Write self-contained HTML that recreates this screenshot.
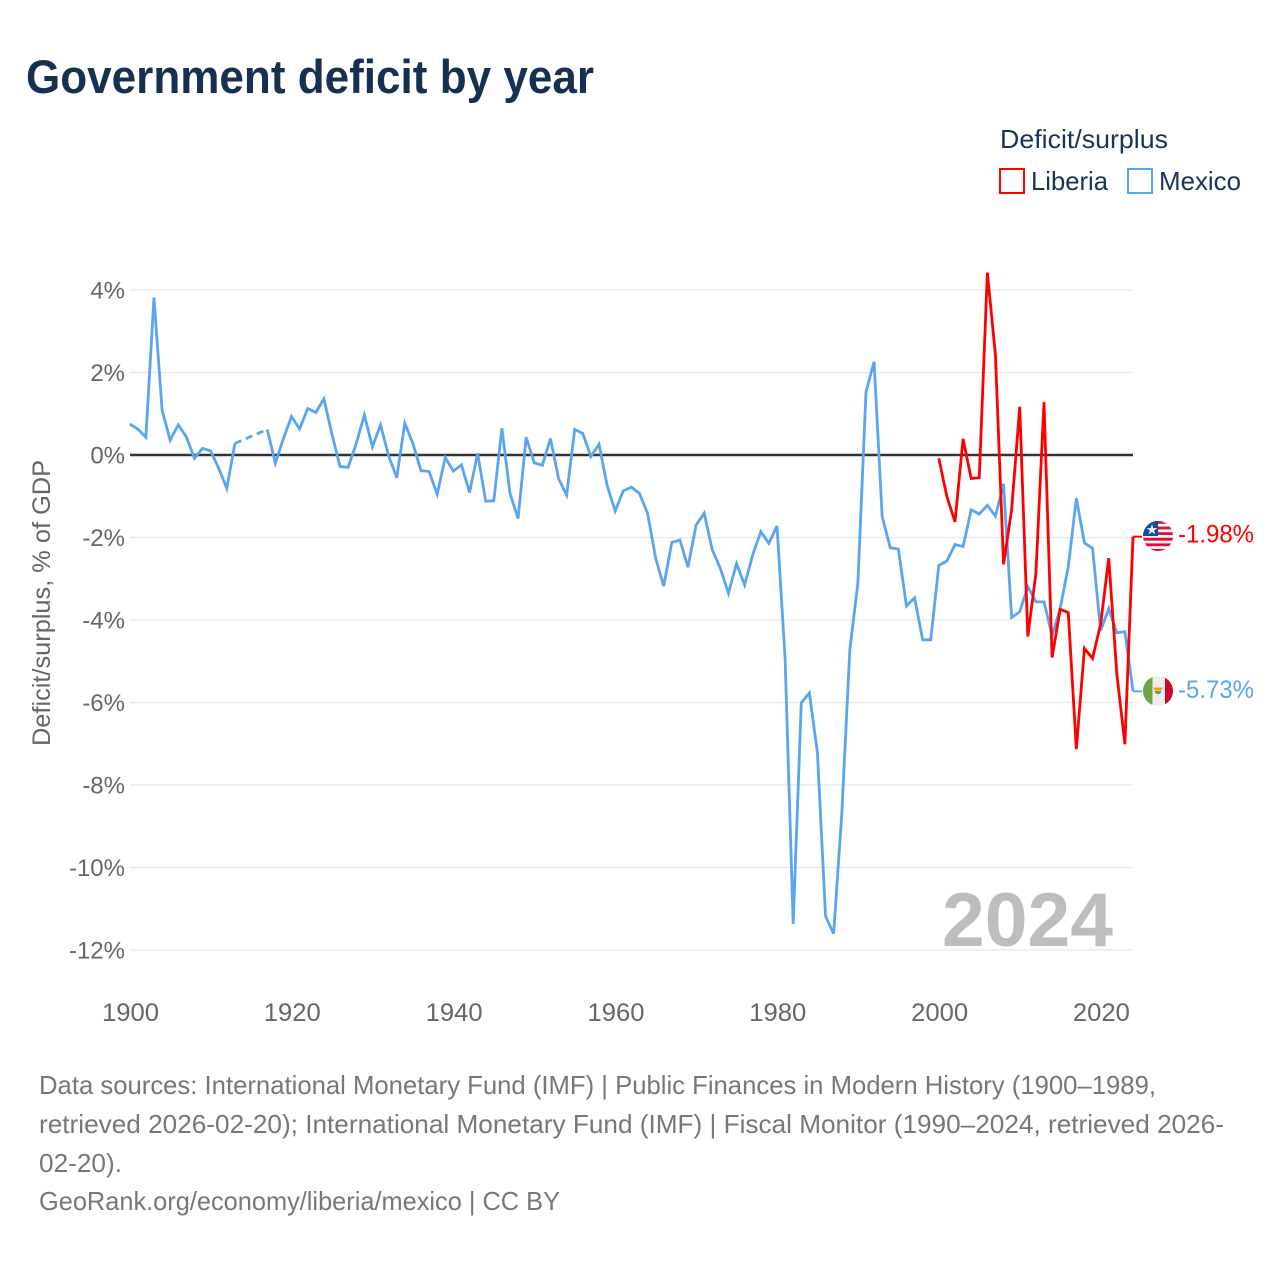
<!DOCTYPE html>
<html lang="en">
<head>
<meta charset="utf-8">
<title>Government deficit by year</title>
<style>
html,body{margin:0;padding:0;background:#fff;width:1280px;height:1280px;overflow:hidden}
svg{display:block}
text{font-family:"Liberation Sans",sans-serif}
</style>
</head>
<body>
<svg id="chart" xmlns="http://www.w3.org/2000/svg" width="1280" height="1280" viewBox="0 0 1280 1280">
  <defs>
    <clipPath id="clip-liberia"><circle cx="1158" cy="536" r="15"/></clipPath>
    <clipPath id="clip-mexico"><circle cx="1158" cy="691" r="15"/></clipPath>
  </defs>
  <rect width="1280" height="1280" fill="#fff"/>
  <text x="26" y="93" font-size="47" font-weight="700" fill="#18304f" textLength="568" lengthAdjust="spacingAndGlyphs">Government deficit by year</text>

  <g>
    <text x="1000" y="148" font-size="26" fill="#1a3354" textLength="168" lengthAdjust="spacingAndGlyphs">Deficit/surplus</text>
    <g>
      <rect x="1000" y="169" width="24" height="24" fill="#fff" stroke="#ff0000" stroke-width="2"/>
      <text x="1031" y="190" font-size="26" fill="#1a3354" textLength="77" lengthAdjust="spacingAndGlyphs">Liberia</text>
    </g>
    <g>
      <rect x="1128" y="169" width="24" height="24" fill="#fff" stroke="#5aa5ef" stroke-width="2"/>
      <text x="1159" y="190" font-size="26" fill="#1a3354" textLength="82" lengthAdjust="spacingAndGlyphs">Mexico</text>
    </g>
  </g>

  <g id="grid"></g>
  <g id="y-ticks"></g>
  <g id="x-ticks"></g>
  <text transform="translate(50,603) rotate(-90)" text-anchor="middle" font-size="25" fill="#666" textLength="286" lengthAdjust="spacingAndGlyphs">Deficit/surplus, % of GDP</text>
  <text x="942" y="946" font-size="76" font-weight="700" fill="#bdbdbd" textLength="171" lengthAdjust="spacingAndGlyphs">2024</text>
  <g id="zero"></g>
  <g id="series"></g>

  <g clip-path="url(#clip-liberia)">
    <rect x="1143" y="521" width="30" height="30" fill="#f2f2f2"/>
    <rect x="1143" y="521" width="30" height="2.8" fill="#d80f37"/>
    <rect x="1143" y="526.6" width="30" height="2.8" fill="#d80f37"/>
    <rect x="1143" y="532.2" width="30" height="2.8" fill="#d80f37"/>
    <rect x="1143" y="537.8" width="30" height="2.8" fill="#d80f37"/>
    <rect x="1143" y="543.4" width="30" height="2.8" fill="#d80f37"/>
    <rect x="1143" y="549" width="30" height="2.8" fill="#d80f37"/>
    <rect x="1143" y="521" width="15" height="15" fill="#0b4ea2"/>
    <polygon points="1152,524.2 1153.3,528.1 1157.4,528.1 1154.1,530.5 1155.3,534.4 1152,532 1148.7,534.4 1149.9,530.5 1146.6,528.1 1150.7,528.1" fill="#f2f2f2"/>
  </g>
  <g clip-path="url(#clip-mexico)">
    <rect x="1143" y="676" width="9.5" height="30" fill="#6da544"/>
    <rect x="1152.5" y="676" width="12.5" height="30" fill="#eeeeee"/>
    <rect x="1165" y="676" width="8" height="30" fill="#d0052b"/>
    <path d="M1153 687.5 L1163 687.5 L1161 690.5 L1155 690.5 Z" fill="#ff9811"/>
    <path d="M1154.5 691 A3.6 4.2 0 0 0 1161.5 691 Z" fill="#6da544"/>
  </g>

  <g id="end-labels"></g>

  <g font-size="26" fill="#777">
    <text x="39" y="1094" textLength="1117" lengthAdjust="spacingAndGlyphs">Data sources: International Monetary Fund (IMF) | Public Finances in Modern History (1900–1989,</text>
    <text x="39" y="1133" textLength="1185" lengthAdjust="spacingAndGlyphs">retrieved 2026-02-20); International Monetary Fund (IMF) | Fiscal Monitor (1990–2024, retrieved 2026-</text>
    <text x="39" y="1172" textLength="83" lengthAdjust="spacingAndGlyphs">02-20).</text>
    <text x="39" y="1210" textLength="521" lengthAdjust="spacingAndGlyphs">GeoRank.org/economy/liberia/mexico | CC BY</text>
  </g>
</svg>
<script>
const xTickYears = [1900, 1920, 1940, 1960, 1980, 2000, 2020];
const yTickValues = [4, 2, 0, -2, -4, -6, -8, -10, -12];
const yTickLabels = ["4%", "2%", "0%", "-2%", "-4%", "-6%", "-8%", "-10%", "-12%"];
const startYear = 1900;
const mexicoValues = [
  0.75, 0.63, 0.43, 3.82, 1.09, 0.36, 0.73, 0.44, -0.08, 0.16,
  0.10, -0.32, -0.81, 0.28, null, null, null, 0.62, -0.20, 0.40,
  0.93, 0.63, 1.13, 1.03, 1.36, 0.50, -0.28, -0.30, 0.28, 0.97,
  0.20, 0.73, -0.02, -0.55, 0.77, 0.28, -0.38, -0.40, -0.95, -0.06,
  -0.39, -0.24, -0.91, 0.04, -1.12, -1.11, 0.65, -0.93, -1.54, 0.43,
  -0.19, -0.25, 0.40, -0.57, -0.97, 0.62, 0.52, -0.04, 0.26, -0.73,
  -1.36, -0.87, -0.78, -0.93, -1.41, -2.50, -3.18, -2.12, -2.06, -2.72,
  -1.70, -1.41, -2.30, -2.75, -3.35, -2.63, -3.15, -2.42, -1.86, -2.14,
  -1.72, -4.92, -11.37, -6.01, -5.77, -7.22, -11.18, -11.60, -8.73, -4.73,
  -3.10, 1.53, 2.26, -1.49, -2.25, -2.28, -3.66, -3.46, -4.48, -4.48,
  -2.68, -2.57, -2.17, -2.22, -1.33, -1.43, -1.22, -1.48, -0.70, -3.94,
  -3.80, -3.19, -3.56, -3.56, -4.38, -3.72, -2.71, -1.05, -2.13, -2.26,
  -4.26, -3.72, -4.31, -4.28, -5.73
];
const liberiaStartYear = 2000;
const liberiaValues = [
  -0.08, -1.01, -1.62, 0.39, -0.57, -0.55, 4.42, 2.42, -2.65, -1.33,
  1.17, -4.40, -2.87, 1.28, -4.91, -3.74, -3.82, -7.13, -4.69, -4.93,
  -4.10, -2.50, -5.30, -7.01, -1.98
];
const mexicoEndLabel = "-5.73%";
const liberiaEndLabel = "-1.98%";

const svgNS = "http://www.w3.org/2000/svg";
const xScale = year => 129.7 + (year - 1900) * (1133 - 129.7) / 124;
const yScale = value => 455 - value * 41.25;
function make(tag, attrs, parent, content) {
  const el = document.createElementNS(svgNS, tag);
  for (const key in attrs) el.setAttribute(key, attrs[key]);
  if (content !== undefined) el.textContent = content;
  parent.appendChild(el);
  return el;
}
const gridGroup = document.getElementById("grid");
const yTickGroup = document.getElementById("y-ticks");
const xTickGroup = document.getElementById("x-ticks");
const zeroGroup = document.getElementById("zero");
const seriesGroup = document.getElementById("series");
const endGroup = document.getElementById("end-labels");

yTickValues.forEach((value, i) => {
  if (value !== 0) {
    const grid = make("line", {x1: 130, x2: 1133, y1: yScale(value), y2: yScale(value), stroke: "#ebebeb", "stroke-width": 1.4}, gridGroup);
    
    
  }
  const label = make("text", {x: 125, y: yScale(value) + 8.5, "text-anchor": "end", "font-size": 24, fill: "#666"}, yTickGroup, yTickLabels[i]);
  
  
});
xTickYears.forEach(year => {
  const label = make("text", {x: xScale(year) + 0.8, y: 1021, "text-anchor": "middle", "font-size": 25, fill: "#666", textLength: 57, lengthAdjust: "spacingAndGlyphs"}, xTickGroup, String(year));
  
  
});
const zeroLine = make("line", {x1: 130, x2: 1133, y1: yScale(0), y2: yScale(0), stroke: "#333", "stroke-width": 2.6}, zeroGroup);



function drawSeries(firstYear, values, color, seriesName) {
  let run = [];
  let lastPoint = null;
  const flush = () => {
    if (run.length > 1) {
      const solid = make("polyline", {points: run.join(" "), fill: "none", stroke: color, "stroke-width": 2.8, "stroke-linejoin": "miter"}, seriesGroup);
      
      
    }
    run = [];
  };
  values.forEach((value, i) => {
    if (value === null) {
      flush();
      return;
    }
    const point = [xScale(firstYear + i), yScale(value)];
    if (run.length === 0 && lastPoint) {
      const gap = make("line", {x1: lastPoint[0], y1: lastPoint[1], x2: point[0], y2: point[1], stroke: color, "stroke-width": 2.8, "stroke-dasharray": "7 5"}, seriesGroup);
      
      
    }
    run.push(point.join(","));
    lastPoint = point;
  });
  flush();
  const stub = make("line", {x1: lastPoint[0], y1: lastPoint[1], x2: lastPoint[0] + 9, y2: lastPoint[1], stroke: color, "stroke-width": 2}, seriesGroup);
  
  
  return lastPoint;
}
const mexicoEnd = drawSeries(startYear, mexicoValues, "#5aa5ef", "mexico");
const liberiaEnd = drawSeries(liberiaStartYear, liberiaValues, "#ff0000", "liberia");

const liberiaLabel = make("text", {x: 1178, y: liberiaEnd[1] + 6, "font-size": 25, fill: "#ff0000", textLength: 76, lengthAdjust: "spacingAndGlyphs"}, endGroup, liberiaEndLabel);


const mexicoLabel = make("text", {x: 1178, y: mexicoEnd[1] + 6.5, "font-size": 25, fill: "#5aa5ef", textLength: 76, lengthAdjust: "spacingAndGlyphs"}, endGroup, mexicoEndLabel);


</script>
</body>
</html>
